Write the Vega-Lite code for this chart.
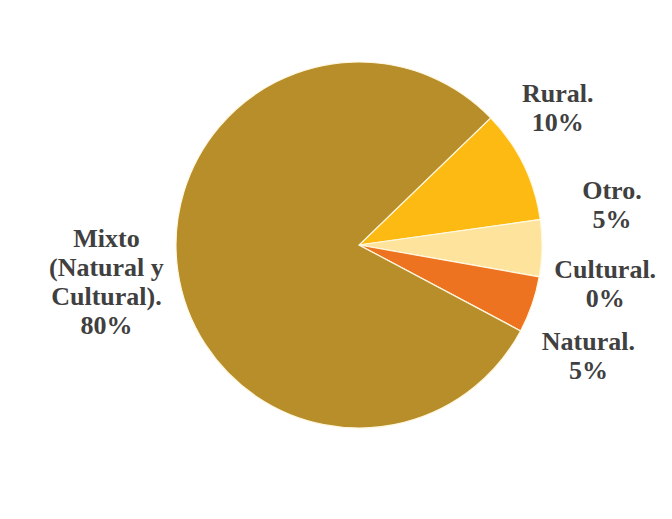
{
  "$schema": "https://vega.github.io/schema/vega-lite/v6.json",
  "width": 626,
  "height": 490,
  "padding": {"left": 46, "top": 0, "right": 0, "bottom": 0},
  "autosize": {"type": "none"},
  "background": "#ffffff",
  "config": {"view": {"stroke": null}},
  "data": {
    "values": [
      {"cat": "Rural", "rank": 1, "value": 10, "label": ["Rural.", "10%"]},
      {"cat": "Otro", "rank": 2, "value": 5, "label": ["Otro.", "5%"]},
      {"cat": "Cultural", "rank": 3, "value": 0, "label": ["Cultural.", "0%"]},
      {"cat": "Natural", "rank": 4, "value": 5, "label": ["Natural.", "5%"]},
      {"cat": "Mixto (Natural y Cultural)", "rank": 5, "value": 80, "label": ["Mixto", "(Natural y", "Cultural).", "80%"]}
    ]
  },
  "encoding": {
    "theta": {"field": "value", "type": "quantitative", "stack": true, "scale": {"range": [0.8029, 7.0861]}},
    "order": {"field": "rank", "type": "quantitative"},
    "detail": {"field": "cat", "type": "nominal"}
  },
  "layer": [
    {
      "mark": {"type": "arc", "radius": 183, "stroke": "#fff8e0", "strokeWidth": 1.2},
      "encoding": {
        "color": {
          "field": "cat",
          "type": "nominal",
          "legend": null,
          "scale": {
            "domain": ["Rural", "Otro", "Cultural", "Natural", "Mixto (Natural y Cultural)"],
            "range": ["#FDBA12", "#FDE39C", "#D9D9D9", "#EE7320", "#B88E2B"]
          }
        }
      }
    },
    {
      "mark": {"type": "text", "radius": 250, "dx": -26, "dy": -41, "font": "Liberation Serif", "fontWeight": "bold", "fontSize": 26, "lineHeight": 29, "color": "#404040", "align": "center", "baseline": "middle"},
      "encoding": {"text": {"condition": {"test": "datum.cat === 'Rural'", "field": "label"}, "value": ""}}
    },
    {
      "mark": {"type": "text", "radius": 250, "dx": 3, "dy": -58, "font": "Liberation Serif", "fontWeight": "bold", "fontSize": 26, "lineHeight": 29, "color": "#404040", "align": "center", "baseline": "middle"},
      "encoding": {"text": {"condition": {"test": "datum.cat === 'Otro'", "field": "label"}, "value": ""}}
    },
    {
      "mark": {"type": "text", "radius": 250, "dx": 0, "dy": -18, "font": "Liberation Serif", "fontWeight": "bold", "fontSize": 26, "lineHeight": 29, "color": "#404040", "align": "center", "baseline": "middle"},
      "encoding": {"text": {"condition": {"test": "datum.cat === 'Cultural'", "field": "label"}, "value": ""}}
    },
    {
      "mark": {"type": "text", "radius": 250, "dx": -7, "dy": 16, "font": "Liberation Serif", "fontWeight": "bold", "fontSize": 26, "lineHeight": 29, "color": "#404040", "align": "center", "baseline": "middle"},
      "encoding": {"text": {"condition": {"test": "datum.cat === 'Natural'", "field": "label"}, "value": ""}}
    },
    {
      "mark": {"type": "text", "radius": 250, "dx": -5, "dy": -41, "font": "Liberation Serif", "fontWeight": "bold", "fontSize": 26, "lineHeight": 29, "color": "#404040", "align": "center", "baseline": "middle"},
      "encoding": {"text": {"condition": {"test": "datum.cat === 'Mixto (Natural y Cultural)'", "field": "label"}, "value": ""}}
    }
  ]
}
